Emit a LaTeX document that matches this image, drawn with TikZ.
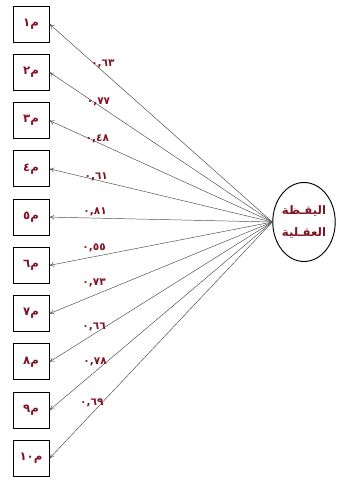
\documentclass[tikz,border=0pt]{standalone}
\usepackage{fontspec}
\newfontfamily\arabicfont[Script=Arabic]{DejaVu Sans}
\TeXXeTstate=1
\usetikzlibrary{arrows.meta, positioning, shapes.geometric}
\definecolor{wine}{rgb}{0.5,0.08,0.14}

\begin{document}
\begin{tikzpicture}[
  x=0.03cm, y=-0.03cm,
  font=\arabicfont,
  >={To[length=4pt,width=4pt]},
  node distance=0.34cm,
  obs/.style={draw, thick, minimum width=1.08cm, minimum height=1.08cm, inner sep=0pt, text=wine, font=\bfseries\normalsize\arabicfont},
  lat/.style={draw, thick, ellipse, minimum width=1.86cm, minimum height=2.37cm, inner sep=0pt, align=center, text=wine, font=\bfseries\normalsize\arabicfont},
  load/.style={text=wine, font=\bfseries\small\arabicfont, inner sep=1pt},
  arr/.style={->, gray!60!black, thin},
]
  \useasboundingbox (0,0) rectangle (337,481);
  \node[lat] (F) at (304,222) {\beginR اليقـظة\endR\\[7pt]\beginR العقـلية\endR};

  \node[obs] (m1) at (31,24) {\beginR م\beginL١\endL\endR};
  \node[obs, below=of m1] (m2) {\beginR م\beginL٢\endL\endR};
  \node[obs, below=of m2] (m3) {\beginR م\beginL٣\endL\endR};
  \node[obs, below=of m3] (m4) {\beginR م\beginL٤\endL\endR};
  \node[obs, below=of m4] (m5) {\beginR م\beginL٥\endL\endR};
  \node[obs, below=of m5] (m6) {\beginR م\beginL٦\endL\endR};
  \node[obs, below=of m6] (m7) {\beginR م\beginL٧\endL\endR};
  \node[obs, below=of m7] (m8) {\beginR م\beginL٨\endL\endR};
  \node[obs, below=of m8] (m9) {\beginR م\beginL٩\endL\endR};
  \node[obs, below=of m9] (m10) {\beginR م\beginL١٠\endL\endR};

  % loadings, placed on the lines as printed
  \draw[arr] (F.west) -- (m1.east) node[load, pos=0.76, yshift=6.8pt] (l1) {٠,٦٣};
  \draw[arr] (F.west) -- (m2.east) node[load, pos=0.78, yshift=2.6pt] (l2) {٠,٧٧};
  \draw[arr] (F.west) -- (m3.east) node[load, pos=0.785, yshift=2.6pt] (l3) {٠,٤٨};
  \draw[arr] (F.west) -- (m4.east) node[load, pos=0.79, yshift=2.6pt] (l4) {٠,٦١};
  \draw[arr] (F.west) -- (m5.east) node[load, pos=0.795, yshift=5.1pt] (l5) {٠,٨١};
  \draw[arr] (F.west) -- (m6.east) node[load, pos=0.80, yshift=7.7pt] (l6) {٠,٥٥};
  \draw[arr] (F.west) -- (m7.east) node[load, pos=0.80, yshift=10.2pt] (l7) {٠,٧٣};
  \draw[arr] (F.west) -- (m8.east) node[load, pos=0.80, yshift=6pt] (l8) {٠,٦٦};
  \draw[arr] (F.west) -- (m9.east) node[load, pos=0.795, yshift=8.5pt] (l9) {٠,٧٨};
  \draw[arr] (F.west) -- (m10.east) node[load, pos=0.81, yshift=9.4pt] (l10) {٠,٦٩};
\end{tikzpicture}
\end{document}
